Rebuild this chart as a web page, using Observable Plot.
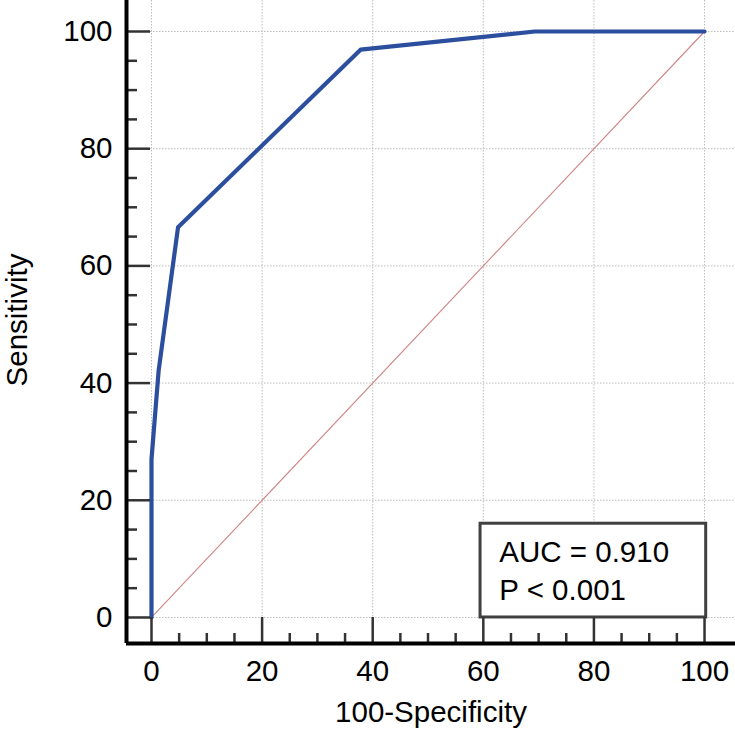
<!DOCTYPE html>
<html>
<head>
<meta charset="utf-8">
<script src="https://cdn.jsdelivr.net/npm/d3@7"></script>
<script src="https://cdn.jsdelivr.net/npm/@observablehq/plot@0.6"></script>
<style>
  html, body { margin: 0; padding: 0; background: #fff; }
</style>
</head>
<body>
<div id="chart"></div>
<script>
// ROC curve points (100-Specificity, Sensitivity)
const fpr = [0, 0, 1.3, 4.8, 37.8, 69.3, 100];
const tpr = [0, 27.0, 42.2, 66.6, 96.9, 100, 100];

// Reference (chance) diagonal
const diagX = [0, 100];
const diagY = [0, 100];

// Axis domains and ticks
const xDomain = [-4.52, 105.6];
const yDomain = [-4.44, 105.29];
const majorTicks = [0, 20, 40, 60, 80, 100];
const minorTicks = d3.range(0, 101, 5).filter(v => v % 20 !== 0);

// Annotation box and text
const boxX = [59.5, 100.3];
const boxY = [0, 16];
const annotLines = ["AUC = 0.910", "P < 0.001"];
const annotPos = [62.9, 3.0];

const xLabel = "100-Specificity";
const yLabel = "Sensitivity";

const roc = fpr.map((x, i) => ({x, y: tpr[i]}));
const diag = diagX.map((x, i) => ({x, y: diagY[i]}));

const font = "'Liberation Sans', Arial, sans-serif";
const fs = 29.5;
const tickColor = "#333";

const chart = Plot.plot({
  width: 735,
  height: 739,
  marginLeft: 126,
  marginRight: 0,
  marginTop: 0,
  marginBottom: 96,
  x: {domain: xDomain},
  y: {domain: yDomain},
  style: {fontFamily: font, fontSize: fs + "px", background: "#fff", color: "#000"},
  marks: [
    Plot.gridX(majorTicks, {stroke: "#bdbdbd", strokeOpacity: 1, strokeWidth: 1, strokeDasharray: "1.5,1.5"}),
    Plot.gridY(majorTicks, {stroke: "#bdbdbd", strokeOpacity: 1, strokeWidth: 1, strokeDasharray: "1.5,1.5"}),
    Plot.line(diag, {x: "x", y: "y", stroke: "#cf8585", strokeWidth: 1.1}),
    Plot.line(roc, {x: "x", y: "y", stroke: "#2b4f9e", strokeWidth: 4.2, strokeLinejoin: "round"}),
    Plot.rect([{x1: boxX[0], x2: boxX[1], y1: boxY[0], y2: boxY[1]}], {
      x1: "x1", x2: "x2", y1: "y1", y2: "y2", fill: "#fff", stroke: "#404040", strokeWidth: 3
    }),
    Plot.text([annotLines.join("\n")], {
      x: annotPos[0], y: annotPos[1], text: d => d, textAnchor: "start", lineAnchor: "bottom",
      lineHeight: 1.27, fontSize: fs, fill: "#000", fontFamily: font
    }),
    // Y axis ticks (inward) and labels
    Plot.axisY(majorTicks, {tickSize: 24, dx: 24, tickFormat: () => "", stroke: tickColor, strokeWidth: 2.5, label: null}),
    Plot.axisY(minorTicks, {tickSize: 11, dx: 11, tickFormat: () => "", stroke: tickColor, strokeWidth: 2.5, label: null}),
    Plot.axisY(majorTicks, {tickSize: 0, tickPadding: 14, fontSize: fs, label: null, fill: "#000"}),
    // X axis ticks (upward) and labels
    Plot.axisX(majorTicks, {tickSize: 26, dy: -26, tickFormat: () => "", stroke: tickColor, strokeWidth: 2.5, label: null}),
    Plot.axisX(minorTicks, {tickSize: 10, dy: -10, tickFormat: () => "", stroke: tickColor, strokeWidth: 2.5, label: null}),
    Plot.axisX(majorTicks, {tickSize: 0, tickPadding: 17, fontSize: fs, label: null, fill: "#000"}),
    // Axis lines
    Plot.ruleX([xDomain[0]], {stroke: "#000", strokeWidth: 4}),
    Plot.ruleY([yDomain[0]], {stroke: "#000", strokeWidth: 4}),
    // Axis titles
    Plot.text([xLabel], {frameAnchor: "bottom", dy: 69, textAnchor: "middle", lineAnchor: "middle", text: d => d, fontSize: fs, fill: "#000", fontFamily: font}),
    Plot.text([yLabel], {frameAnchor: "left", dx: -109, dy: -2, rotate: -90, textAnchor: "middle", lineAnchor: "middle", text: d => d, fontSize: fs, fill: "#000", fontFamily: font})
  ]
});

document.getElementById("chart").appendChild(chart);
</script>
</body>
</html>
